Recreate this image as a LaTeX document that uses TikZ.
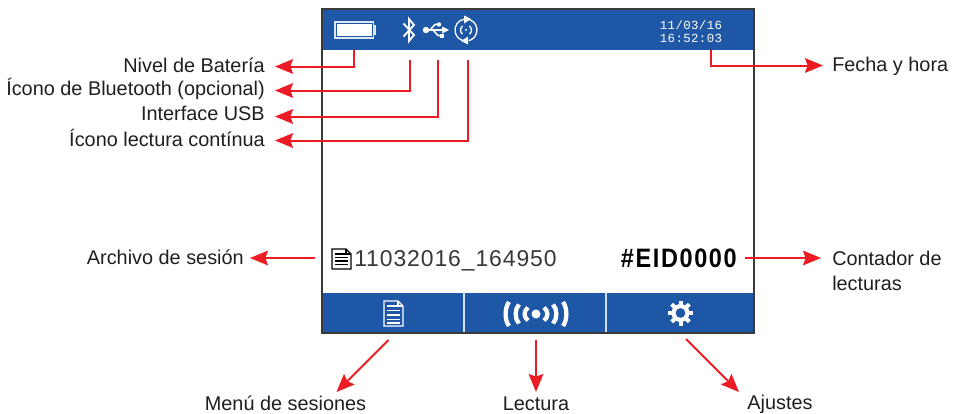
\documentclass[tikz,border=0pt]{standalone}
\usepackage{fontspec}
\setmainfont{Liberation Sans}
\newfontfamily\datefont[LetterSpace=3]{Liberation Mono}
\newfontfamily\thinfont[LetterSpace=4]{Liberation Sans}
\newfontfamily\eidfont[LetterSpace=7]{Liberation Sans}
\usetikzlibrary{arrows.meta}
\definecolor{band}{HTML}{1D57A5}
\definecolor{redline}{HTML}{ED1C24}
\definecolor{frameline}{HTML}{3A3A3A}
\tikzset{
 lbl/.style={inner sep=0pt,font=\fontsize{14.9}{18.6}\selectfont,text=black!88},
 lblL/.style={lbl,anchor=east},
 lblR/.style={lbl,anchor=west,align=left},
 lblC/.style={lbl,anchor=center},
 conn/.style={draw=redline,line width=1.5pt,-{Stealth[length=13.5pt,width=11pt,inset=2pt]}},
 bandbox/.style={fill=band,draw=none},
}
\begin{document}
\begin{tikzpicture}[x=0.75pt,y=-0.75pt]
\useasboundingbox (0,0) rectangle (958,414);
\fill[white] (0,0) rectangle (958,414);
% screen
\fill[bandbox] (322,9) rectangle (754,50);
\fill[bandbox] (322,293) rectangle (754,333);
\draw[frameline,line width=1.5pt] (322,9) rectangle (754,333);
\draw[white!80!band,line width=1pt] (464,293) -- (464,332);
\draw[white!80!band,line width=1pt] (606,293) -- (606,332);
% battery
\draw[white!85!band,line width=1pt] (335,22) rectangle (373.5,38);
\fill[white] (337,24) rectangle (371.5,36);
\fill[white!85!band] (374,25) rectangle (376,35);
% bluetooth
\draw[white,line width=1.4pt] (403.5,23.5) -- (414,35) -- (409,41) -- (409,19) -- (414,25) -- (403.5,36.5);
% usb
\fill[white] (426,30) circle (3.2);
\draw[white,line width=1.4pt] (426,30) -- (442,30);
\fill[white] (442,26.5) -- (449,30) -- (442,33.5) -- cycle;
\draw[white,line width=1.2pt] (430,30) -- (435,24.5) -- (440,24.5);
\draw[white,line width=1.2pt] (433,30) -- (438,35.5) -- (442,35.5);
\fill[white] (439,24.5) circle (2.2);
\fill[white] (440,33.5) rectangle (444,37.5);
% continuous reading
\draw[white,line width=1pt] (466,30)++(-100:11) arc[start angle=-100,end angle=-260,radius=11];
\draw[white,line width=1pt] (466,30)++(-70:11) arc[start angle=-70,end angle=75,radius=11];
\draw[white,line width=1pt] (466,30)++(130:5.5) arc[start angle=130,end angle=230,radius=5.5];
\draw[white,line width=1pt] (466,30)++(50:5.5) arc[start angle=50,end angle=-50,radius=5.5];
\fill[white] (466,30) circle (1.2);
\fill[white] (464,15.5) -- (471,19) -- (464,23.5) -- cycle;
\fill[white] (468,36.5) -- (461,41) -- (468,44.5) -- cycle;
% date
\node[inner sep=0pt,align=center,text=white,font=\datefont\fontsize{9.3}{10}\selectfont] (date) at (691,31.5) {11/03/16\\16:52:03};
% session file icon
\draw[black,line width=1pt] (332,249) -- (346,249) -- (351,254) -- (351,269) -- (332,269) -- cycle;
\draw[black,line width=.8pt] (346,249) -- (346,254) -- (351,254);
\foreach \yy in {254,257.5,261,264.5} \draw[black,line width=1pt] (335,\yy) -- (348,\yy);
\node[anchor=west,inner sep=0pt,text=black!78,font=\thinfont\fontsize{17.2}{20}\selectfont] (session) at (354,260.5) {11032016\_164950};
\node[anchor=east,inner sep=0pt,text=black,xscale=.88,font=\eidfont\bfseries\fontsize{20}{22}\selectfont] (eid) at (737,258) {\#EID0000};
% bottom icons
\draw[white,line width=.9pt] (384,301) -- (398,301) -- (403,306) -- (403,326) -- (384,326) -- cycle;
\draw[white,line width=.8pt] (398,301) -- (398,306) -- (403,306);
\foreach \yy in {306,310.5,315,319.5,323} \draw[white,line width=.9pt] (387,\yy) -- (400,\yy);
\fill[white] (536,314) circle (4.5);
\foreach \o/\h in {11/6.5,20/9.5,30/12}{
 \draw[white,line width=3.2pt] (536-\o+3,314-\h) .. controls (536-\o-1.5,314-\h/2) and (536-\o-1.5,314+\h/2) .. (536-\o+3,314+\h);
 \draw[white,line width=3.2pt] (536+\o-3,314-\h) .. controls (536+\o+1.5,314-\h/2) and (536+\o+1.5,314+\h/2) .. (536+\o-3,314+\h);
}
\foreach \a in {0,45,...,315} \fill[white,rotate around={\a:(680.5,313)}] (678.5,300.5) rectangle (682.5,307);
\fill[white,even odd rule] (680.5,313) circle (9) (680.5,313) circle (5);
% labels
\node[lblL] (bat) at (265,65.5) {Nivel de Batería};
\node[lblL] (bt) at (265,89) {Ícono de Bluetooth (opcional)};
\node[lblL] (usb) at (265,113) {Interface USB};
\node[lblL] (cont) at (265,138) {Ícono lectura contínua};
\node[lblL] (arch) at (244,257.5) {Archivo de sesión};
\node[lblR] (fecha) at (832,66.5) {Fecha y hora};
\node[lblR] (cnt) at (832,271) {Contador de\\lecturas};
\node[lblC] (menu) at (285.5,403) {Menú de sesiones};
\node[lblC] (lect) at (536,404) {Lectura};
\node[lblC] (aj) at (780,404.5) {Ajustes};
% connector end points
\coordinate (sBat) at (353.5,50);
\coordinate (sBt) at (409.5,60);
\coordinate (sUsb) at (438,60);
\coordinate (sCont) at (468,60);
\coordinate (sDate) at (711,50);
\coordinate (sArch) at (315,258);
\coordinate (sEid) at (745,258);
\coordinate (sMenu) at (388.5,340);
\coordinate (sLect) at (536,340);
\coordinate (sAj) at (686,339);
\coordinate (eBat) at (275,66.5);
\coordinate (eBt) at (275,90.5);
\coordinate (eUsb) at (275,116.5);
\coordinate (eCont) at (275,140.5);
\coordinate (eFecha) at (823,65.5);
\coordinate (eCnt) at (821,258);
\coordinate (eArch) at (250,258);
\coordinate (eMenu) at (336.5,392);
\coordinate (eLect) at (536,392);
\coordinate (eAj) at (739,392);
% connectors
\draw[conn] (sBat) |- (eBat);
\draw[conn] (sBt) |- (eBt);
\draw[conn] (sUsb) |- (eUsb);
\draw[conn] (sCont) |- (eCont);
\draw[conn] (sDate) |- (eFecha);
\draw[conn] (sArch) -- (eArch);
\draw[conn] (sEid) -- (eCnt);
\draw[conn] (sMenu) -- (eMenu);
\draw[conn] (sLect) -- (eLect);
\draw[conn] (sAj) -- (eAj);
\end{tikzpicture}
\end{document}
